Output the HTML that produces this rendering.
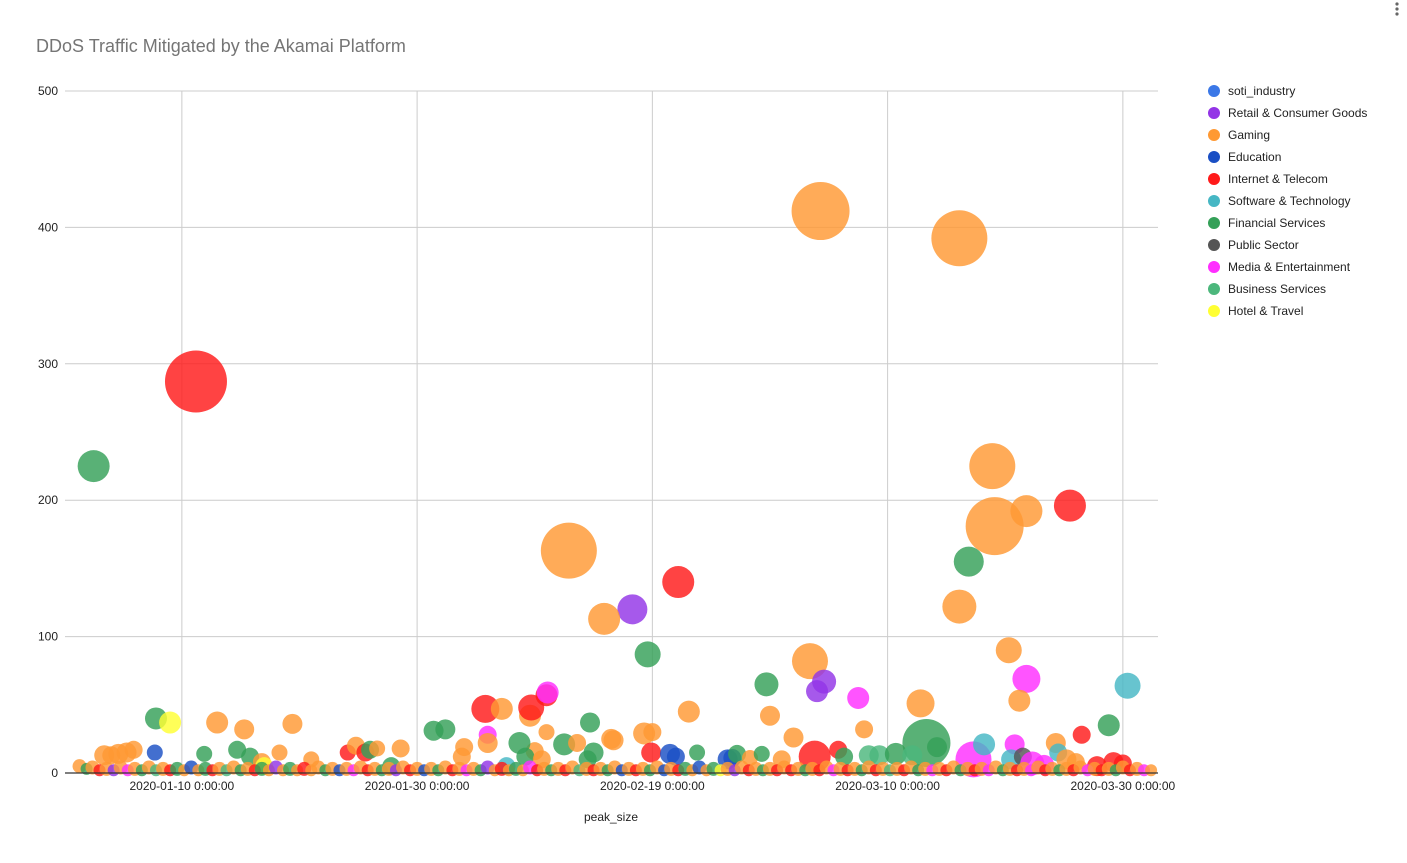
<!DOCTYPE html>
<html><head><meta charset="utf-8">
<style>
body{margin:0;background:#fff;font-family:"Liberation Sans",Arial,sans-serif;}
svg text{font-family:"Liberation Sans",Arial,sans-serif;}
</style></head>
<body>
<svg id="chart" width="1407" height="858" viewBox="0 0 1407 858" xmlns="http://www.w3.org/2000/svg">
<rect width="1407" height="858" fill="#fff"/>
<text x="36" y="52" font-size="18" fill="#757575">DDoS Traffic Mitigated by the Akamai Platform</text>
<g fill="#666"><circle cx="1397" cy="4" r="1.6"/><circle cx="1397" cy="9" r="1.6"/><circle cx="1397" cy="14" r="1.6"/></g>
<g id="grid"></g>
<g id="marks"></g>
<g id="axes"></g>
<text x="611" y="821" font-size="12" text-anchor="middle" fill="#222">peak_size</text>
<g id="legend"></g>
</svg>
<script>
const categories=["soti_industry","Retail & Consumer Goods","Gaming","Education","Internet & Telecom","Software & Technology","Financial Services","Public Sector","Media & Entertainment","Business Services","Hotel & Travel"];
const colors=["#3b78e7","#9334e6","#ff9933","#1a4fc4","#ff1a1a","#46b7c4","#34a058","#555555","#ff2eff","#4cb77c","#ffff33"];
const yTicks=[0,100,200,300,400,500];
const xTickDays=[9,29,49,69,89];
const xTickLabels=["2020-01-10 0:00:00","2020-01-30 0:00:00","2020-02-19 0:00:00","2020-03-10 0:00:00","2020-03-30 0:00:00"];
// [day since 2020-01-01, peak value, bubble size, category index]
const bigPoints=[
[10.2,287,31,4],[1.5,225,16,6],[63.3,412,29,2],[75.1,392,28,2],[77.9,225,23,2],[78.1,181,29,2],
[80.8,192,16,2],[84.5,196,16,4],[41.9,163,28,2],[75.9,155,15,6],[75.1,122,17,2],[51.2,140,16,4],
[47.3,120,15,1],[44.9,113,16,2],[48.6,87,13,6],[79.3,90,13,2],[62.4,82,18,2],[63.6,67,12,1],
[63,60,11,1],[58.7,65,12,6],[89.4,64,13,5],[80.8,69,14,8],[66.5,55,11,8],[71.8,51,14,2],[80.2,53,11,2],
[34.8,47,14,4],[36.2,47,11,2],[38.6,42,11,2],[38.7,48,13,4],[40,57,11,4],[40.1,59,11,8],
[6.8,40,11,6],[8,37,11,10],[12,37,11,2],[14.3,32,10,2],[18.4,36,10,2],[30.4,31,10,6],[31.4,32,10,6],
[72.3,22,24,6],[76.3,10,18,8],[52.1,45,11,2],[59,42,10,2],[62.8,12,16,4],[87.8,35,11,6],[85.5,28,9,4],
[48.3,29,11,2],[49,30,9,2],[61,26,10,2],[67,32,9,2],[77.2,21,11,5],[79.8,21,10,8],[79.5,10,10,5],
[80.5,12,9,7],[83.3,22,10,2],[83.5,15,9,5],[35,28,9,8],[35,22,10,2],[41.5,21,11,6],[43.7,37,10,6],
[44,15,10,6],[45.5,25,10,2],[45.7,24,10,2],[40,30,8,2],[39,16,9,2],[42.6,22,9,2],[43.5,10,9,6],
[2.4,13,10,2],[3,13,9,2],[3.6,14,10,2],[4.3,15,10,2],[4.9,17,9,2],[6.7,15,8,3],[10.9,14,8,6],
[13.7,17,9,6],[14.8,12,9,6],[15.8,8,9,2],[17.3,15,8,2],[20,10,8,2],[23.1,15,8,4],[23.8,20,9,2],
[24.6,15,9,4],[25,17,9,6],[25.6,18,8,2],[27.6,18,9,2],[26.8,5,9,6],[33,19,9,2],[32.8,12,9,2],
[37.7,22,11,6],[36.6,5,9,5],[38.2,12,9,6],[39.6,10,9,2],[48.9,15,10,4],[50.5,14,10,3],[51,12,9,3],
[52.8,15,8,6],[55.4,10,10,3],[55.8,11,9,3],[56.2,14,9,6],[64.8,17,9,4],[67.4,13,10,9],[68.3,13,10,9],
[69.7,14,11,6],[71.1,13,10,9],[73.2,19,10,6],[88.2,8,10,4],[89,7,9,4],[86.8,5,10,4],[81.3,7,12,8],
[82.3,6,10,8],[84.2,10,10,2],[85,8,9,2],[60,10,9,2],[65.3,12,9,6],[57.3,11,8,2],[58.3,14,8,6],[16,5,9,10]
];
const smallPoints=[
[0.3,5,7,2],[0.9,3,6,6],[1.4,4,7,2],[2,2,6,4],[2.6,3,7,2],[3.2,2,6,1],[3.8,4,7,2],[4.4,2,6,8],[5,3,7,2],
[5.6,2,6,6],[6.2,4,7,2],[6.8,2,6,9],[7.4,3,7,2],[8,2,6,4],[8.6,3,7,6],[9.2,2,6,2],[9.8,4,7,3],[10.4,2,6,2],
[11,3,7,6],[11.6,2,6,4],[12.2,3,7,2],[12.8,2,6,9],[13.4,4,7,2],[14,2,6,6],[14.6,3,7,2],[15.2,2,6,4],
[15.8,3,7,6],[16.4,2,6,2],[17,4,7,1],[17.6,2,6,2],[18.2,3,7,6],[18.8,2,6,2],[19.4,3,7,4],[20,2,6,2],
[20.6,4,7,2],[21.2,2,6,6],[21.8,3,7,2],[22.4,2,6,3],[23,3,7,2],[23.6,2,6,8],[24.2,4,7,2],[24.8,2,6,4],
[25.4,3,7,2],[26,2,6,6],[26.6,3,7,2],[27.2,2,6,1],[27.8,4,7,2],[28.4,2,6,4],[29,3,7,2],[29.6,2,6,3],
[30.2,3,7,2],[30.8,2,6,6],[31.4,4,7,2],[32,2,6,4],[32.6,3,7,2],[33.2,2,6,8],[33.8,3,7,2],[34.4,2,6,6],
[35,4,7,1],[35.6,2,6,2],[36.2,3,7,4],[36.8,2,6,2],[37.4,3,7,6],[38,2,6,2],[38.6,4,7,8],[39.2,2,6,4],
[39.8,3,7,2],[40.4,2,6,6],[41,3,7,2],[41.6,2,6,4],[42.2,4,7,2],[42.8,2,6,9],[43.4,3,7,2],[44,2,6,4],
[44.6,3,7,2],[45.2,2,6,6],[45.8,4,7,2],[46.4,2,6,3],[47,3,7,2],[47.6,2,6,4],[48.2,3,7,2],[48.8,2,6,6],
[49.4,4,7,2],[50,2,6,3],[50.6,3,7,2],[51.2,2,6,4],[51.8,3,7,6],[52.4,2,6,2],[53,4,7,3],[53.6,2,6,2],
[54.2,3,7,6],[54.8,2,6,10],[55.4,3,7,2],[56,2,6,1],[56.6,4,7,2],[57.2,2,6,4],[57.8,3,7,2],[58.4,2,6,6],
[59,3,7,2],[59.6,2,6,4],[60.2,4,7,2],[60.8,2,6,4],[61.4,3,7,2],[62,2,6,6],[62.6,3,7,2],[63.2,2,6,4],
[63.8,4,7,2],[64.4,2,6,8],[65,3,7,2],[65.6,2,6,4],[66.2,3,7,2],[66.8,2,6,6],[67.4,4,7,2],[68,2,6,4],
[68.6,3,7,2],[69.2,2,6,9],[69.8,3,7,2],[70.4,2,6,4],[71,4,7,2],[71.6,2,6,6],[72.2,3,7,2],[72.8,2,6,8],
[73.4,3,7,2],[74,2,6,4],[74.6,4,7,2],[75.2,2,6,6],[75.8,3,7,2],[76.4,2,6,4],[77,3,7,2],[77.6,2,6,8],
[78.2,4,7,2],[78.8,2,6,6],[79.4,3,7,2],[80,2,6,4],[80.6,3,7,2],[81.2,2,6,8],[81.8,4,7,2],[82.4,2,6,4],
[83,3,7,2],[83.6,2,6,6],[84.2,3,7,2],[84.8,2,6,4],[85.4,4,7,2],[86,2,6,8],[86.6,3,7,2],[87.2,2,6,4],
[87.8,3,7,2],[88.4,2,6,6],[89,4,7,2],[89.6,2,6,4],[90.2,3,7,2],[90.8,2,6,8],[91.4,2,6,2]
];
const NS="http://www.w3.org/2000/svg";
const X0=65,X1=1158,Y0=773,Y1=91;
function xScale(d){return 76+d*(1123-182)/80;}
function yScale(v){return Y0-(v/500)*(Y0-Y1);}
function mk(tag,attrs,parent){const e=document.createElementNS(NS,tag);for(const k in attrs)e.setAttribute(k,attrs[k]);parent.appendChild(e);return e;}
const grid=document.getElementById('grid'),marks=document.getElementById('marks'),axes=document.getElementById('axes'),legend=document.getElementById('legend');
yTicks.forEach(t=>{
  const y=yScale(t);
  if(t>0){const l=mk('line',{x1:X0,x2:X1,y1:y,y2:y,stroke:'#cccccc','stroke-width':1},grid);
  
  }
  const tx=mk('text',{x:58,y:y+4,'font-size':12,'text-anchor':'end',fill:'#222'},axes);tx.textContent=t;
  
  
});
xTickDays.forEach((d,i)=>{
  const x=xScale(d);
  const l=mk('line',{x1:x,x2:x,y1:Y1,y2:Y0,stroke:'#cccccc','stroke-width':1},grid);
  
  
  const tx=mk('text',{x:x,y:790,'font-size':12,'text-anchor':'middle',fill:'#222'},axes);tx.textContent=xTickLabels[i];
  
  
});
const base=mk('line',{x1:X0,x2:X1,y1:Y0,y2:Y0,stroke:'#333','stroke-width':1.2},axes);


function draw(p){
  const c=mk('circle',{cx:xScale(p[0]),cy:yScale(p[1]),r:p[2],fill:colors[p[3]],'fill-opacity':0.82},marks);
  
  
}
bigPoints.forEach(draw);
smallPoints.forEach(draw);
categories.forEach((c,i)=>{
  const y=91+i*22;
  const g=mk('g',{},legend);
  
  
  mk('circle',{cx:1214,cy:y,r:6,fill:colors[i]},g);
  const t=mk('text',{x:1228,y:y+4,'font-size':12,fill:'#222'},g);t.textContent=c;
});
</script>
</body></html>
